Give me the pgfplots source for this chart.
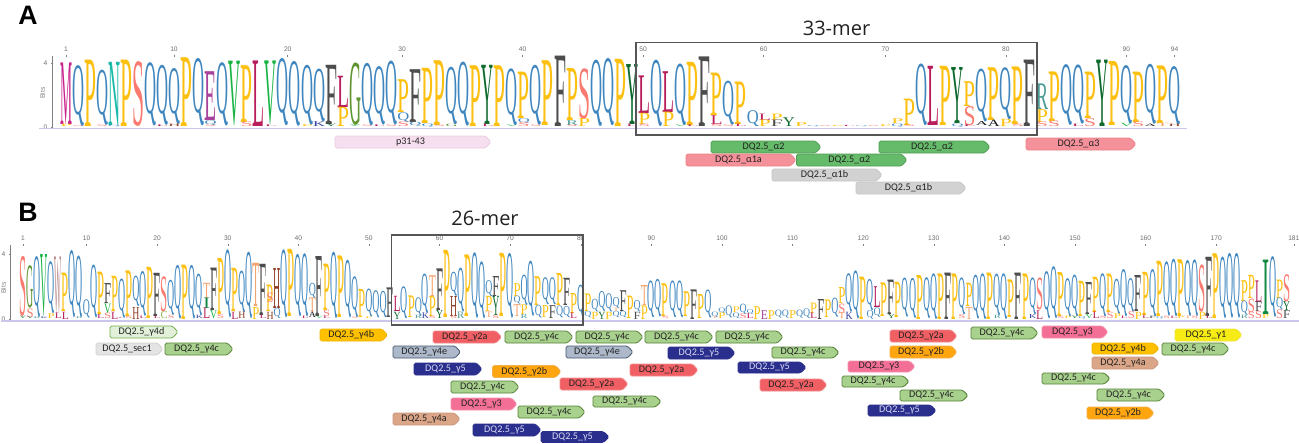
\documentclass[border=0pt]{standalone}
\usepackage{fontspec}
\usepackage{graphicx}
\usepackage{pgfplots}
\pgfplotsset{compat=1.18}
\setmainfont{Carlito}
\newfontfamily\logofont{Liberation Serif}
\newfontfamily\headfont{Open Sans}
\newfontfamily\tickfont{Liberation Sans}

% residue colours
\definecolor{lcQ}{HTML}{3F86BF}\definecolor{lcP}{HTML}{FDC010}\definecolor{lcF}{HTML}{4D4D4D}
\definecolor{lcL}{HTML}{B81D5C}\definecolor{lcS}{HTML}{FA7A70}\definecolor{lcY}{HTML}{0F6A2D}
\definecolor{lcV}{HTML}{17B444}\definecolor{lcN}{HTML}{1AB9A9}\definecolor{lcG}{HTML}{5F9432}
\definecolor{lcM}{HTML}{C8228C}\definecolor{lcE}{HTML}{A8429C}\definecolor{lcT}{HTML}{F4A46F}
\definecolor{lcH}{HTML}{8B3A1F}\definecolor{lcR}{HTML}{4B9B97}\definecolor{lcW}{HTML}{B8888A}
\definecolor{lcI}{HTML}{128A45}\definecolor{lcK}{HTML}{2B3D9C}\definecolor{lcA}{HTML}{111111}
\definecolor{lcC}{HTML}{8FB84A}
% peptide colours
\definecolor{gA}{HTML}{66BB6A}\definecolor{gAd}{HTML}{4E9A52}
\definecolor{sal}{HTML}{F4919A}\definecolor{sald}{HTML}{EE8088}
\definecolor{lgr}{HTML}{D2D2D2}\definecolor{lgrd}{HTML}{C4C4C4}
\definecolor{pnk}{HTML}{F6DFEF}\definecolor{pnkd}{HTML}{EBC9E2}
\definecolor{c4}{HTML}{A9D18E}\definecolor{c4d}{HTML}{548235}
\definecolor{d4}{HTML}{E2F0D9}\definecolor{d4d}{HTML}{70AD47}
\definecolor{r2}{HTML}{F05F63}\definecolor{r2d}{HTML}{F28A8C}
\definecolor{o2}{HTML}{FFA50F}\definecolor{o2d}{HTML}{F2B04A}
\definecolor{am}{HTML}{FFC000}\definecolor{amd}{HTML}{F0B400}
\definecolor{e4}{HTML}{ADB9CA}\definecolor{e4d}{HTML}{44546A}
\definecolor{nv}{HTML}{2A2E8C}\definecolor{nvt}{HTML}{D9DBF5}
\definecolor{p3}{HTML}{F46F95}\definecolor{p3d}{HTML}{F58FAC}
\definecolor{a4}{HTML}{DBA588}\definecolor{a4d}{HTML}{C99478}
\definecolor{y1}{HTML}{F6EB14}\definecolor{y1d}{HTML}{EDE340}
\definecolor{s1}{HTML}{E4E4E4}\definecolor{s1d}{HTML}{CFCFCF}
\definecolor{boxc}{HTML}{555555}\definecolor{lav}{HTML}{CBC7EC}\definecolor{ink}{HTML}{222222}

\newlength\bitunit
\setlength\bitunit{12pt}

% one peptide: x1 x2 ytop ybot fill draw text label (pixel axis)
\newcommand\pep[8]{%
  \pgfmathsetmacro\pepTip{#2-5.5}%
  \pgfmathsetmacro\pepMid{(#3+#4)/2}%
  \addplot[fill=#5,draw=#6,line width=0.6pt,rounded corners=1.2pt] coordinates {(#1,#3)(\pepTip,#3)(#2,\pepMid)(\pepTip,#4)(#1,#4)} -- cycle;
  \node[text=#7,font=\fontsize{7.6}{9}\selectfont,inner sep=0pt] at (axis cs:{(#1+#2)/2-2.5},{(#3+#4)/2}) {#8};
}

\pgfplotsset{
  logo/.style={
    scale only axis,
    clip=false,
    anchor=south west,
    axis x line=top,
    axis y line=left,
    x axis line style={draw=none},
    y axis line style={-,draw=gray,line width=0.5pt},
    ymin=0,
    ytick={0,4},
    ylabel={},
    tick style={draw=gray,line width=0.35pt},
    major tick length=1.8pt,
    tick label style={font=\tickfont\fontsize{5}{6}\selectfont,text=gray!85!black},
    xticklabel style={yshift=-1pt},
    yticklabel style={xshift=1pt},
    /pgf/number format/assume math mode=true,
  },
  letters/.style={
    draw=none,mark=none,
    visualization depends on={value \thisrow{h} \as \lgh},
    visualization depends on={value \thisrow{l} \as \lgl},
    nodes near coords={\resizebox*{#1}{\lgh\bitunit}{\color{lc\lgl}\logofont\lgl}},
    every node near coord/.style={inner sep=0pt,outer sep=0pt,anchor=south},
  },
}

\begin{document}
\begin{tikzpicture}
\path[use as bounding box] (0,0) rectangle (974.25pt,332.25pt);

% panel A logo
\begin{axis}[logo,at={(39pt,237pt)},width=851.25pt,height=53.4pt,
  xmin=-0.162,xmax=94.03,ymax=4.45,
  xtick={1,9.96,19.4,28.9,38.9,48.9,58.9,69,79,89,93},
  xticklabels={1,10,20,30,40,50,60,70,80,90,94}]
\addplot[lav,line width=1.1pt] coordinates {(-1.2,-0.1)(94.0,-0.1)};
\addplot[letters=9pt] table[row sep=\\,x=c,y=b] {
c b h l\\
1 0.14 3.85 M\\ 1 0 0.14 P\\ 2 0.06 3.8 Q\\ 2 0 0.06 S\\ 3 0 4.15 P\\ 4 0.1 3.45 Q\\ 4 0 0.1 S\\
5 0.1 3.95 N\\ 5 0 0.1 Q\\ 6 0 4.15 P\\ 7 0.05 4.05 S\\ 7 0 0.05 T\\ 8 0.05 3.95 Q\\ 9 0.1 3.75 Q\\ 9 0 0.1 L\\
10 0.15 3.5 Q\\ 10 0 0.15 H\\ 11 0 4.3 P\\ 12 0.05 4.2 Q\\ 13 0.4 3.05 E\\ 13 0.1 0.3 Q\\ 13 0 0.1 S\\
14 0.05 3.95 Q\\ 15 0.05 4.05 V\\ 16 0.3 3.55 P\\ 16 0 0.3 S\\ 17 0 4.1 L\\ 18 0.1 4 V\\ 18 0 0.1 L\\
19 0.05 4.2 Q\\ 20 0.05 4.05 Q\\ 21 0.1 3.75 Q\\ 21 0 0.1 P\\ 22 0.3 3.3 Q\\ 22 0 0.3 K\\ 23 0.15 3.7 F\\ 23 0 0.15 Y\\
24 1.2 1.95 L\\ 24 0 1.2 P\\ 25 0.1 3.9 G\\ 25 0 0.1 V\\ 26 0.1 3.9 Q\\ 26 0 0.1 S\\ 27 0.1 3.65 Q\\ 27 0 0.1 L\\
28 0.1 4 Q\\ 28 0 0.1 S\\ 29 0.9 2.05 P\\ 29 0.3 0.6 Q\\ 29 0 0.3 S\\ 30 0.3 3.3 F\\ 30 0.05 0.25 Q\\ 31 0.2 3.45 P\\ 31 0 0.2 Q\\
32 0.1 4.05 P\\ 32 0 0.1 S\\ 33 0.15 3.6 Q\\ 33 0 0.15 G\\ 34 0.05 4 Q\\ 35 0.05 3.8 P\\ 36 0.15 3.7 Y\\ 36 0 0.15 L\\
37 0.05 3.8 P\\ 38 0.1 3.55 Q\\ 38 0 0.1 V\\ 39 0.55 2.9 P\\ 39 0.25 0.3 Q\\ 39 0 0.25 S\\ 40 0.1 3.75 Q\\ 40 0 0.1 S\\
41 0.1 4.05 P\\ 42 0 4.4 F\\ 43 0.4 3.25 P\\ 43 0.1 0.3 R\\ 43 0 0.1 S\\ 44 0.5 3.15 S\\ 44 0 0.5 P\\
45 0.05 4.15 Q\\ 46 0.05 4.2 Q\\ 47 0.05 4.2 P\\ 48 0.15 3.75 Y\\ 48 0 0.15 L\\ 49 0.85 2.35 L\\ 49 0.15 0.7 P\\ 49 0 0.15 S\\
50 0.05 4.15 Q\\ 51 0.9 2.55 L\\ 51 0 0.9 P\\ 52 0.1 3.85 Q\\ 52 0 0.1 V\\ 53 0.1 3.95 P\\ 53 0 0.1 L\\ 54 0 4.35 F\\
55 0.7 2.65 P\\ 55 0.15 0.55 L\\ 55 0 0.15 S\\ 56 0.1 2.75 Q\\ 56 0 0.1 S\\ 57 0.15 2.65 P\\ 57 0 0.15 L\\ 58 0.05 1 Q\\
59 0.4 0.4 L\\ 59 0 0.4 P\\ 60 0.4 0.4 P\\ 60 0 0.4 F\\ 61 0 0.55 Y\\ 62 0 0.25 P\\
63 0 0.07 Q\\ 64 0 0.06 S\\ 65 0 0.06 P\\ 66 0 0.07 L\\ 67 0 0.06 Q\\ 68 0 0.07 S\\ 69 0 0.1 P\\
70 0.2 0.3 P\\ 70 0 0.2 Q\\ 71 0.1 1.65 P\\ 71 0 0.1 S\\ 72 0.1 3.85 Q\\ 73 0.1 3.7 L\\ 74 0.1 3.7 P\\ 75 0.2 3.5 Y\\ 75 0 0.2 Q\\
76 1.3 1.55 P\\ 76 0.1 1.2 S\\ 76 0 0.1 L\\ 77 0.35 3.3 Q\\ 77 0.1 0.25 A\\ 78 0.4 3.3 P\\ 78 0 0.4 A\\ 79 0.45 3.25 Q\\ 79 0 0.45 P\\
80 0.15 3.6 P\\ 80 0 0.15 S\\ 81 0 4.15 F\\ 82 1.1 1.6 R\\ 82 0.3 0.8 P\\ 82 0 0.3 S\\ 83 0.35 3.1 P\\ 83 0 0.35 S\\
84 0.1 3.8 Q\\ 85 0.15 3.7 Q\\ 85 0 0.15 L\\ 86 0.5 2.9 P\\ 86 0 0.5 S\\ 87 0 4.15 Y\\ 88 0.1 4 P\\ 89 0.2 3.65 Q\\ 89 0 0.2 V\\
90 0.3 3.15 P\\ 90 0 0.3 S\\ 91 0.15 3.75 Q\\ 91 0 0.15 A\\ 92 0.2 3.6 P\\ 92 0 0.2 T\\ 93 0.15 3.65 Q\\ 93 0 0.15 H\\
};
\end{axis}

% panel B logo
\begin{axis}[logo,at={(7.5pt,93pt)},width=965.25pt,height=55.5pt,
  xmin=-0.84,xmax=181.45,ymax=4.6,
  xtick={1,10,20,30,40,50,60,70,80,90,100,110,120,130,140,150,160,170,181}]
\addplot[lav,line width=1.6pt] coordinates {(-2.1,-0.14)(181.9,-0.14)};
\addplot[letters=5.3pt] table[row sep=\\,x=c,y=b] {
c b h l\\
1 0.15 3.75 S\\ 1 0 0.15 Y\\ 2 0.65 2.65 G\\ 2 0.1 0.55 S\\ 2 0 0.1 Y\\ 3 0.1 3.8 Q\\ 3 0 0.1 R\\ 4 0.1 3.9 V\\ 4 0 0.1 K\\
5 0.3 3.25 Q\\ 5 0 0.3 P\\ 6 0.35 3.55 W\\ 6 0 0.35 L\\ 7 0.45 2.4 P\\ 7 0 0.45 L\\ 8 0.05 4.2 Q\\ 9 0.1 3.85 Q\\ 9 0 0.1 R\\
10 0.05 1.15 Q\\ 11 0.05 3.3 Q\\ 12 0.25 2.65 P\\ 12 0 0.25 L\\ 13 0.35 0.6 V\\ 13 0.95 1.25 F\\ 13 0 0.35 S\\ 14 0.45 2.2 P\\ 14 0 0.45 L\\
15 0.05 2.45 Q\\ 15 0 0.05 L\\ 16 0.15 2.85 P\\ 16 0 0.15 S\\ 17 0.75 1.9 Q\\ 17 0 0.75 H\\ 18 0.15 2.8 Q\\ 18 0 0.15 L\\
19 0.05 3.2 P\\ 20 0.15 2.7 F\\ 20 0 0.15 L\\ 21 0.45 2.2 S\\ 21 0 0.45 C\\ 22 0.2 2.2 Q\\ 22 0 0.2 S\\ 23 0 3.35 Q\\ 24 0 3.4 P\\ 25 0 3.35 Q\\
26 0.2 2.6 Q\\ 26 0 0.2 K\\ 27 1.3 0.95 T\\ 27 0.65 0.65 I\\ 27 0 0.65 L\\ 28 0.5 2.65 F\\ 28 0 0.5 V\\ 29 0.25 3.5 P\\ 29 0 0.25 S\\
30 0.05 4.25 Q\\ 31 0.45 2.7 P\\ 31 0 0.45 L\\ 32 0.4 2.6 Q\\ 32 0 0.4 H\\ 33 0.05 4.15 Q\\ 34 0.75 2.7 T\\ 34 0 0.75 P\\ 35 0.2 3.2 F\\ 35 0 0.2 L\\
36 0.45 1.65 P\\ 36 1 0.6 S\\ 36 0 0.45 H\\ 37 0.65 2.5 H\\ 37 0 0.65 Q\\ 38 0.05 4.25 Q\\ 39 0.15 4.2 P\\ 40 0.15 3.9 Q\\ 41 0.15 3.95 Q\\ 41 0 0.15 L\\
42 1.3 0.95 Q\\ 42 0.45 0.85 T\\ 42 0.1 0.35 A\\ 43 0.15 3.75 F\\ 43 0 0.15 V\\ 44 0.55 2.9 P\\ 44 0.15 0.4 S\\ 44 0 0.15 L\\
45 0.05 4.15 Q\\ 46 0.1 3.85 P\\ 47 0.1 3.6 Q\\ 48 0.1 2.55 Q\\ 48 0 0.1 S\\ 49 0.1 1.75 P\\ 50 0.1 1.75 Q\\ 50 0 0.1 P\\ 51 0.1 1.7 Q\\ 52 0.1 1.65 Q\\ 53 0.1 1.85 F\\
54 0.45 0.95 L\\ 54 0 0.45 Y\\ 55 0 2 Q\\ 56 0.1 1.35 P\\ 57 0.2 1.15 Q\\ 57 0 0.2 R\\ 58 0.35 2.45 Q\\ 58 0 0.35 K\\ 59 1.4 1.3 T\\ 59 0.15 1.25 P\\ 59 0 0.15 S\\
60 0.55 2.6 F\\ 60 0.05 0.5 Y\\ 61 0.1 4.2 P\\ 62 1.4 1.5 Q\\ 62 0.15 1.25 H\\ 62 0 0.15 S\\ 63 0.45 2.75 Q\\ 63 0.05 0.4 R\\ 64 0.15 3.85 P\\
65 0.05 4.1 Q\\ 66 0.05 3.55 Q\\ 67 1.4 1 Q\\ 67 0.45 0.95 P\\ 67 0.1 0.35 T\\ 68 1.4 1.25 F\\ 68 0.2 1.2 Y\\ 68 0 0.2 S\\ 69 0.15 3.95 P\\ 70 0.05 4.05 Q\\
71 1.4 0.8 P\\ 71 0.9 0.5 Q\\ 71 0.15 0.75 T\\ 72 0.85 1.9 Q\\ 72 0.25 0.6 P\\ 72 0 0.25 R\\ 73 0.15 3.45 Q\\ 74 0.85 1.8 P\\ 74 0.05 0.8 Q\\ 75 0.85 1.7 Q\\ 75 0.1 0.75 P\\
76 0.85 1.7 Q\\ 76 0.05 0.8 F\\ 77 0.85 2 P\\ 77 0.1 0.75 Q\\ 78 0.85 1.7 F\\ 78 0.1 0.7 Q\\ 79 0.35 1.25 P\\ 79 0 0.35 L\\ 80 0.05 2.05 Q\\
81 0.45 1.1 P\\ 81 0.05 0.4 Q\\ 82 0.45 0.8 Q\\ 82 0 0.45 P\\ 83 0.45 1.25 Q\\ 83 0 0.45 Y\\ 84 0.45 1.15 Q\\ 84 0 0.45 P\\ 85 0.65 0.7 Q\\ 85 0.45 0.2 T\\ 85 0.05 0.4 Q\\
86 0.45 1.3 F\\ 86 0.05 0.4 Q\\ 87 0.05 1.4 P\\ 88 0.45 0.7 Q\\ 88 0 0.45 F\\ 89 0.85 1.25 T\\ 89 0 0.85 P\\ 90 0.1 2.3 Q\\ 91 0.1 2.35 Q\\ 92 0.15 2.05 P\\ 92 0 0.15 S\\
93 0.1 2.3 Q\\ 94 0.1 2.3 Q\\ 95 0.15 1.55 P\\ 96 0 1.85 F\\ 97 0.05 1.5 P\\ 98 0.05 1.75 Q\\ 99 0.1 0.35 Q\\ 99 0 0.1 T\\ 100 0.35 0.35 Q\\ 100 0 0.35 P\\
101 0.1 0.75 Q\\ 102 0.4 0.35 P\\ 102 0.05 0.35 Q\\ 103 0.3 0.65 Q\\ 103 0 0.3 S\\ 104 0.3 0.3 Q\\ 104 0 0.3 L\\ 105 0 0.8 P\\ 106 0 0.55 E\\ 107 0 0.55 P\\
108 0.05 0.5 Q\\ 109 0.05 0.5 Q\\ 110 0 0.5 P\\ 111 0.05 0.5 Q\\ 112 0.05 0.6 Q\\ 113 0.35 0.65 P\\ 113 0 0.35 L\\ 114 0 1.25 F\\ 115 0.1 1.1 P\\ 116 0.1 1.2 Q\\
117 0.95 1 P\\ 117 0.35 0.6 S\\ 117 0 0.35 T\\ 118 0.45 2.4 Q\\ 118 0 0.45 K\\ 119 0 3 Q\\ 120 0 2.65 P\\ 121 0.55 1.95 Q\\ 121 0 0.55 Q\\ 122 0.7 1.3 L\\ 122 0.1 0.6 Q\\
123 0.15 2.1 P\\ 124 0.25 2.15 F\\ 124 0 0.25 Y\\ 125 0.1 2.2 P\\ 126 0.1 2.45 Q\\ 127 0.05 2.5 Q\\ 128 0 2.75 P\\ 129 0.05 2.55 Q\\ 130 0 2.85 Q\\ 131 0 2.85 P\\ 132 0 2.9 F\\ 133 0 2.85 P\\
134 0.25 2.3 Q\\ 134 0 0.25 S\\ 135 0.75 1.45 P\\ 135 0 0.75 T\\ 136 0 2.75 Q\\ 137 0 2.85 Q\\ 138 0 2.9 P\\ 139 0.2 2.6 Q\\ 139 0 0.2 R\\ 140 0 2.85 Q\\ 141 0.1 2.35 P\\
142 0 2.9 F\\ 143 0 2.85 P\\ 144 0.25 2.3 Q\\ 144 0 0.25 K\\ 145 0.55 2 S\\ 145 0 0.55 L\\ 146 0 2.95 Q\\ 147 0 3.25 Q\\ 148 0.15 2.75 P\\ 148 0 0.15 S\\ 149 0.15 2.4 Q\\ 149 0 0.15 P\\
150 0.15 2.6 Q\\ 150 0 0.15 Y\\ 151 0.15 2.2 P\\ 151 0 0.15 Q\\ 152 0.25 2 F\\ 152 0 0.25 V\\ 153 0.4 2.2 P\\ 153 0 0.4 L\\ 154 0.15 2.7 Q\\ 154 0 0.15 S\\ 155 0.4 2.4 P\\ 155 0 0.4 S\\
156 0.3 2.2 Q\\ 156 0 0.3 P\\ 157 0.15 2.95 Q\\ 157 0 0.15 L\\ 158 0.45 2.1 Q\\ 158 0 0.45 S\\ 159 0.45 2.25 F\\ 159 0 0.45 P\\ 160 0.2 2.7 P\\ 160 0 0.2 L\\ 161 0.15 2.95 Q\\ 161 0 0.15 F\\
162 0.15 3.45 P\\ 162 0 0.15 Q\\ 163 0.15 3.4 Q\\ 163 0 0.15 S\\ 164 0.15 3.6 Q\\ 164 0 0.15 L\\ 165 0.15 3.55 P\\ 165 0 0.15 P\\ 166 0.15 3.5 Q\\ 166 0 0.15 T\\ 167 0.15 3.55 Q\\ 167 0 0.15 S\\
168 0.45 2.95 S\\ 168 0 0.45 P\\ 169 0.15 3.7 F\\ 169 0 0.15 L\\ 170 0.05 4.05 P\\ 171 0.05 3.85 Q\\ 172 0.05 4.05 Q\\ 173 0.05 4.05 Q\\
174 1.1 1.3 P\\ 174 0.2 0.9 Q\\ 174 0 0.2 R\\ 175 1.25 1.45 P\\ 175 0.4 0.85 S\\ 175 0 0.4 S\\ 176 1.05 1.35 L\\ 176 0.45 0.6 F\\ 176 0 0.45 S\\
177 0.25 3.4 I\\ 177 0 0.25 P\\ 178 0.1 3.8 Q\\ 179 1.3 1.15 P\\ 179 0.55 0.75 Q\\ 179 0 0.55 S\\ 180 1.05 1.7 S\\ 180 0.5 0.55 Y\\ 180 0 0.5 F\\
};
\end{axis}

% peptides, boxes and headings in reference pixels
\begin{axis}[at={(0pt,0pt)},anchor=south west,scale only axis,width=974.25pt,height=332.25pt,
  xmin=0,xmax=1299,ymin=0,ymax=443,y dir=reverse,hide axis,clip=false]
\addplot[draw=boxc,line width=0.9pt] coordinates {(636,42.5)(1037,42.5)(1037,135)(636,135)} -- cycle;
\addplot[draw=boxc,line width=0.9pt] coordinates {(391.7,235)(583,235)(583,325)(391.7,325)} -- cycle;
\node[font=\headfont\fontsize{15}{18}\selectfont,text=ink] at (axis cs:836.5,28) {33-mer};
\node[font=\headfont\fontsize{15}{18}\selectfont,text=ink] at (axis cs:485,218) {26-mer};
\node[font=\tickfont\bfseries\fontsize{20}{24}\selectfont] at (axis cs:28,15) {A};
\node[font=\tickfont\bfseries\fontsize{20}{24}\selectfont] at (axis cs:28,212) {B};
\node[rotate=90,font=\tickfont\fontsize{5}{6}\selectfont,text=gray] at (axis cs:42.5,93) {Bits};
\node[rotate=90,font=\tickfont\fontsize{5}{6}\selectfont,text=gray] at (axis cs:3.5,288) {Bits};

\pep{335}{491}{136}{148}{pnk}{pnkd}{ink}{p31-43}
\pep{711}{821}{141}{153}{gA}{gAd}{ink}{DQ2.5\_α2}
\pep{686}{796}{154}{166}{sal}{sald}{ink}{DQ2.5\_α1a}
\pep{796.5}{907}{154}{166}{gA}{gAd}{ink}{DQ2.5\_α2}
\pep{772}{882}{169}{181}{lgr}{lgrd}{ink}{DQ2.5\_α1b}
\pep{856}{966}{182}{194}{lgr}{lgrd}{ink}{DQ2.5\_α1b}
\pep{879}{990}{141}{153}{gA}{gAd}{ink}{DQ2.5\_α2}
\pep{1026}{1136}{138}{150}{sal}{sald}{ink}{DQ2.5\_α3}

\pep{110}{178}{326}{338}{d4}{d4d}{ink}{DQ2.5\_γ4d}
\pep{96}{163}{343}{355}{s1}{s1d}{ink}{DQ2.5\_sec1}
\pep{165}{233}{343}{355}{c4}{c4d}{ink}{DQ2.5\_γ4c}
\pep{320}{387.5}{329}{341}{am}{amd}{ink}{DQ2.5\_γ4b}
\pep{433}{501.5}{331}{343}{r2}{r2d}{ink}{DQ2.5\_γ2a}
\pep{505}{573}{331}{343}{c4}{c4d}{ink}{DQ2.5\_γ4c}
\pep{576}{643}{331}{343}{c4}{c4d}{ink}{DQ2.5\_γ4c}
\pep{645}{713}{331}{343}{c4}{c4d}{ink}{DQ2.5\_γ4c}
\pep{716}{783}{331}{343}{c4}{c4d}{ink}{DQ2.5\_γ4c}
\pep{393}{460.5}{346}{358}{e4}{e4d}{ink}{DQ2.5\_γ4e}
\pep{566}{633}{346}{358}{e4}{e4d}{ink}{DQ2.5\_γ4e}
\pep{414}{482}{363}{375}{nv}{nv}{nvt}{DQ2.5\_γ5}
\pep{492.5}{561}{365.5}{377.5}{o2}{o2d}{ink}{DQ2.5\_γ2b}
\pep{451}{519}{381}{393}{c4}{c4d}{ink}{DQ2.5\_γ4c}
\pep{560}{628}{378}{390}{r2}{r2d}{ink}{DQ2.5\_γ2a}
\pep{630}{698}{364}{376}{r2}{r2d}{ink}{DQ2.5\_γ2a}
\pep{668}{735}{347}{359}{nv}{nv}{nvt}{DQ2.5\_γ5}
\pep{772}{839}{347}{358}{c4}{c4d}{ink}{DQ2.5\_γ4c}
\pep{738}{806}{362}{373}{nv}{nv}{nvt}{DQ2.5\_γ5}
\pep{760}{827}{379}{391}{r2}{r2d}{ink}{DQ2.5\_γ2a}
\pep{451}{517}{398}{410}{p3}{p3d}{ink}{DQ2.5\_γ3}
\pep{518}{585}{406}{418}{c4}{c4d}{ink}{DQ2.5\_γ4c}
\pep{593}{661}{396}{407}{c4}{c4d}{ink}{DQ2.5\_γ4c}
\pep{393}{460}{413}{425}{a4}{a4d}{ink}{DQ2.5\_γ4a}
\pep{473}{541}{424}{436}{nv}{nv}{nvt}{DQ2.5\_γ5}
\pep{541}{609}{431.5}{442.5}{nv}{nv}{nvt}{DQ2.5\_γ5}
\pep{890}{957}{330}{342}{r2}{r2d}{ink}{DQ2.5\_γ2a}
\pep{890}{957}{346}{358}{o2}{o2d}{ink}{DQ2.5\_γ2b}
\pep{848}{915}{361}{372}{p3}{p3d}{ink}{DQ2.5\_γ3}
\pep{842}{909}{376}{387}{c4}{c4d}{ink}{DQ2.5\_γ4c}
\pep{900}{968}{390}{401}{c4}{c4d}{ink}{DQ2.5\_γ4c}
\pep{868}{936}{405}{416}{nv}{nv}{nvt}{DQ2.5\_γ5}
\pep{971}{1038}{327}{339}{c4}{c4d}{ink}{DQ2.5\_γ4c}
\pep{1042}{1108}{326}{338}{p3}{p3d}{ink}{DQ2.5\_γ3}
\pep{1175}{1242}{329}{341}{y1}{y1d}{ink}{DQ2.5\_γ1}
\pep{1092}{1159}{343}{354}{am}{amd}{ink}{DQ2.5\_γ4b}
\pep{1162}{1229}{343}{355}{c4}{c4d}{ink}{DQ2.5\_γ4c}
\pep{1092}{1159}{357}{369}{a4}{a4d}{ink}{DQ2.5\_γ4a}
\pep{1042}{1110}{373}{384}{c4}{c4d}{ink}{DQ2.5\_γ4c}
\pep{1097}{1165}{389}{401}{c4}{c4d}{ink}{DQ2.5\_γ4c}
\pep{1087}{1154}{407}{419}{o2}{o2d}{ink}{DQ2.5\_γ2b}
\end{axis}
\end{tikzpicture}
\end{document}
